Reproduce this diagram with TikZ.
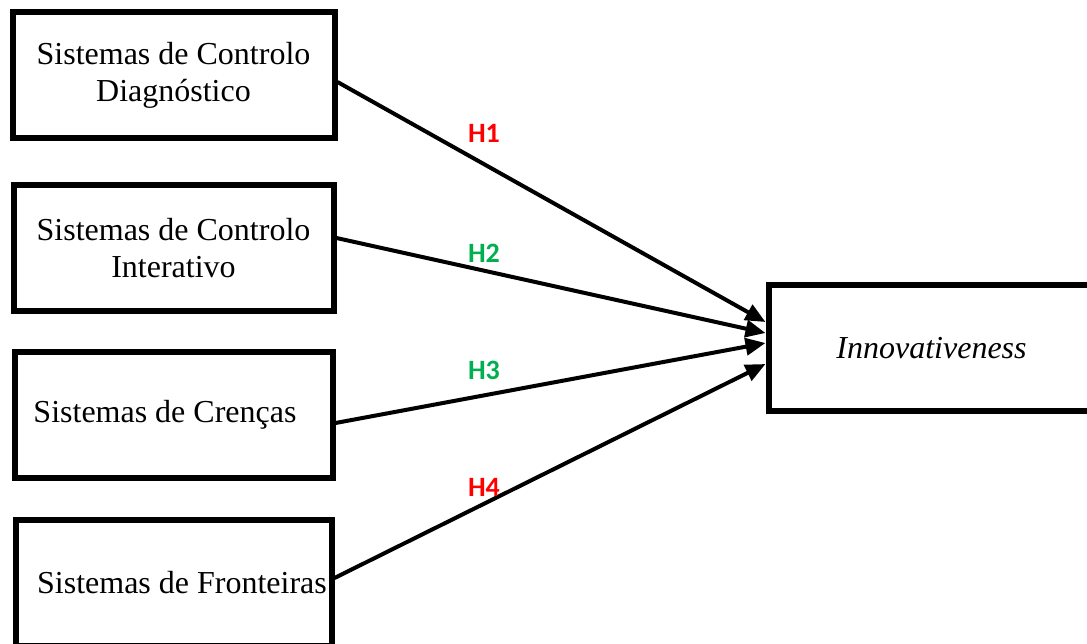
\documentclass[tikz,border=0pt]{standalone}
\usepackage{fontspec}
\setmainfont{Liberation Serif}
\newfontfamily\labfont{Carlito}
\usetikzlibrary{positioning,arrows.meta}
\definecolor{hypRed}{HTML}{FF0000}
\definecolor{hypGreen}{HTML}{00B050}

\begin{document}
\begin{tikzpicture}[x=1pt,y=-1pt,
      box/.style={draw,line width=6pt,minimum width=320pt,minimum height=126pt,align=center,font=\fontsize{32}{37}\selectfont},
      hyp/.style={font=\labfont\bfseries\fontsize{28}{30}\selectfont},
      link/.style={-{Triangle[length=20pt,width=17pt]},line width=4pt}
    ]
    \useasboundingbox (0,0) rectangle (1087,643);

    \node[box,minimum width=322pt] (diag) at (173.5,75) {Sistemas de Controlo\\Diagnóstico};
    \node[box,below=41pt of diag] (inter) {Sistemas de Controlo\\Interativo};
    \node[box,minimum width=318pt,below=35pt of inter] (crencas) {\hspace*{-17pt}Sistemas de Crenças};
    \node[box,minimum width=316pt,below=35.5pt of crencas] (fronteiras) {\hspace*{17pt}Sistemas de Fronteiras};

    \node[box,minimum width=326pt] (inno) at (931.5,348) {\textit{Innovativeness}};

    \draw[link] ([yshift=-7pt]diag.east) -- ([yshift=26pt]inno.west);
    \draw[link] ([yshift=10pt]inter.east) -- ([yshift=15pt]inno.west);
    \draw[link] ([yshift=-8pt]crencas.east) -- ([yshift=5pt]inno.west);
    \draw[link] ([yshift=4.5pt]fronteiras.east) -- ([yshift=-16pt]inno.west);

    \node[hyp,text=hypRed] (h1) at (484,133) {H1};
    \node[hyp,text=hypGreen] (h2) at (484,253) {H2};
    \node[hyp,text=hypGreen] (h3) at (484,370) {H3};
    \node[hyp,text=hypRed] (h4) at (484,487) {H4};
  \end{tikzpicture}
\end{document}
